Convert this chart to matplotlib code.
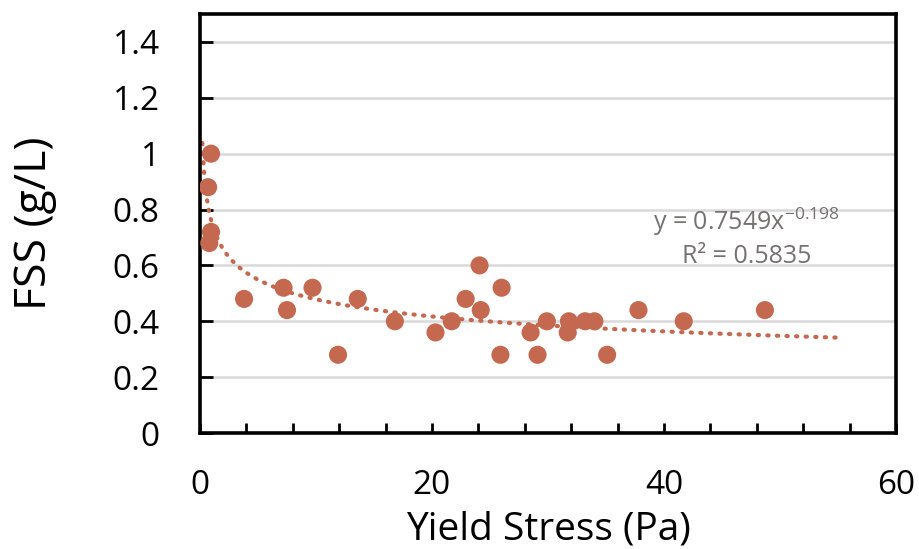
import numpy as np
import matplotlib.pyplot as plt
from matplotlib.ticker import MultipleLocator

plt.rcParams['font.family'] = ['Open Sans', 'DejaVu Sans']

# data
yield_stress = [0.95, 0.7, 0.95, 0.8, 3.8, 7.2, 7.5, 9.7, 11.9, 13.6, 16.8,
                20.3, 21.7, 22.9, 24.1, 24.2, 26.0, 25.9, 28.5, 29.1, 29.9,
                31.7, 31.8, 33.2, 34.0, 35.1, 37.8, 41.7, 48.7]
fss = [1.0, 0.88, 0.72, 0.68, 0.48, 0.52, 0.44, 0.52, 0.28, 0.48, 0.40,
       0.36, 0.40, 0.48, 0.60, 0.44, 0.52, 0.28, 0.36, 0.28, 0.40,
       0.36, 0.40, 0.40, 0.40, 0.28, 0.44, 0.40, 0.44]

# power trendline y = a * x^b
a_coef = 0.7549
b_coef = -0.198
r2 = 0.5835

col = '#C4694F'

fig = plt.figure(figsize=(9.19, 5.49), dpi=100)
ax = fig.add_axes([200/919, 1 - 433/549, 696/919, 419/549])

xt = np.linspace(0.2, 55.4, 300)
ax.plot(xt, a_coef * xt ** b_coef, color=col, lw=3,
        linestyle=(0, (0.3, 2.0)), dash_capstyle='round', zorder=2)
ax.scatter(yield_stress, fss, s=170, color=col, edgecolors='none', zorder=3)

ax.set_xlim(0, 60)
ax.set_ylim(0, 1.5)
ax.set_yticks(np.arange(0, 1.41, 0.2))
ax.set_yticklabels(['0', '0.2', '0.4', '0.6', '0.8', '1', '1.2', '1.4'])
ax.set_xticks([0, 20, 40, 60])
ax.xaxis.set_minor_locator(MultipleLocator(4))
ax.grid(axis='y', color='#D9D9D9', lw=1.8, zorder=0)
ax.set_axisbelow(True)

ax.tick_params(axis='both', which='both', direction='in', width=2, colors='black',
               labelsize=24)
ax.tick_params(axis='x', which='both', length=7, pad=26)
ax.tick_params(axis='y', length=9, pad=29)
for sp in ax.spines.values():
    sp.set_linewidth(2.6)
    sp.set_color('black')

ax.set_xlabel('Yield Stress (Pa)', fontsize=28, labelpad=6)
ax.set_ylabel('FSS (g/L)', fontsize=32, labelpad=40)

ax.text(47.1, 0.757, 'y = 0.7549x$^{\\mathregular{-0.198}}$',
        ha='center', va='center', fontsize=18, color='#767171')
ax.text(47.1, 0.632, 'R² = %.4f' % r2,
        ha='center', va='center', fontsize=18, color='#767171')

fig.savefig('out.png', dpi=100)
